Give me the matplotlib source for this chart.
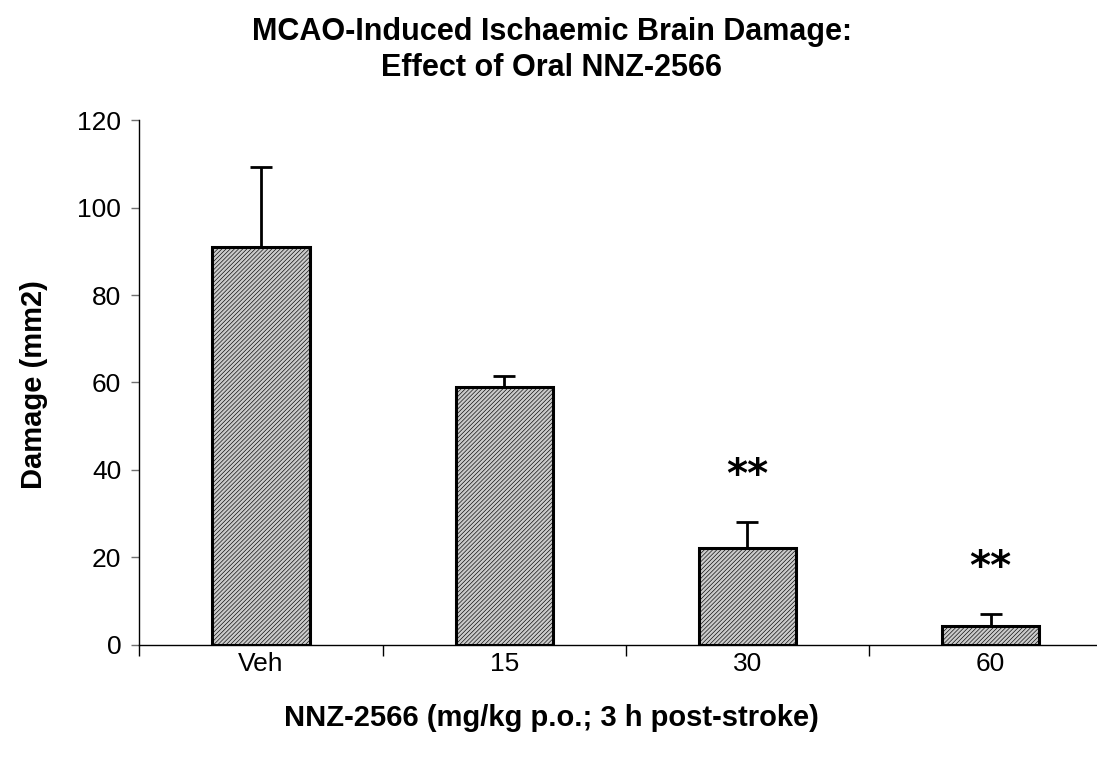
import numpy as np
import matplotlib
matplotlib.use("Agg")
import matplotlib.pyplot as plt

plt.rcParams['font.family'] = ['Liberation Sans', 'DejaVu Sans']
plt.rcParams['hatch.color'] = '#a2a2a2'
plt.rcParams['hatch.linewidth'] = 0.45

# data
groups = ['Veh', '15', '30', '60']
damage = [90.9, 59.0, 22.2, 4.3]
sem = [18.4, 2.6, 5.9, 2.7]
signif = ['', '', '**', '**']

fig = plt.figure(figsize=(10.97, 7.65), dpi=100)
ax = fig.add_axes([0.127, 0.157, 0.887, 0.686])

x = np.arange(len(groups))
ax.bar(x, damage, width=0.4, color='#cbcbcb', edgecolor='black',
       linewidth=2.2, hatch='////////', zorder=2)
ax.errorbar(x, damage, yerr=[np.zeros(len(sem)), sem], fmt='none',
            ecolor='black', elinewidth=2.0, capsize=8, capthick=2.0, zorder=1)

# significance stars
for i, s in enumerate(signif):
    if s:
        ax.text(x[i], damage[i] + sem[i] + 10.5, s, ha='center', va='center',
                fontsize=29, fontweight='bold', family='DejaVu Sans')

ax.set_xlim(-0.5, 3.5)
ax.set_ylim(0, 120)
ax.set_yticks(np.arange(0, 121, 20))
ax.set_xticks(x)
ax.set_xticklabels(groups)
ax.set_xticks(np.arange(-0.5, 3.0, 1.0), minor=True)
ax.tick_params(axis='x', which='major', length=0, labelsize=19, pad=5)
ax.tick_params(axis='x', which='minor', length=8, width=1, direction='out')
ax.tick_params(axis='y', length=6, width=1, color='#707070', labelsize=19, pad=7)

for side in ['top', 'right']:
    ax.spines[side].set_visible(False)
for side in ['left', 'bottom']:
    ax.spines[side].set_linewidth(1.0)
ax.spines['left'].set_bounds(0, 120)

fig.text(0.503, 0.958, 'MCAO-Induced Ischaemic Brain Damage:',
         ha='center', va='center', fontsize=22, fontweight='bold')
fig.text(0.503, 0.911, 'Effect of Oral NNZ-2566',
         ha='center', va='center', fontsize=22, fontweight='bold')
fig.text(0.031, 0.497, 'Damage (mm2)', rotation=90, ha='center', va='center',
         fontsize=21, fontweight='bold')
fig.text(0.503, 0.061, 'NNZ-2566 (mg/kg p.o.; 3 h post-stroke)', ha='center',
         va='center', fontsize=21, fontweight='bold')

fig.savefig('out.png', dpi=100)
